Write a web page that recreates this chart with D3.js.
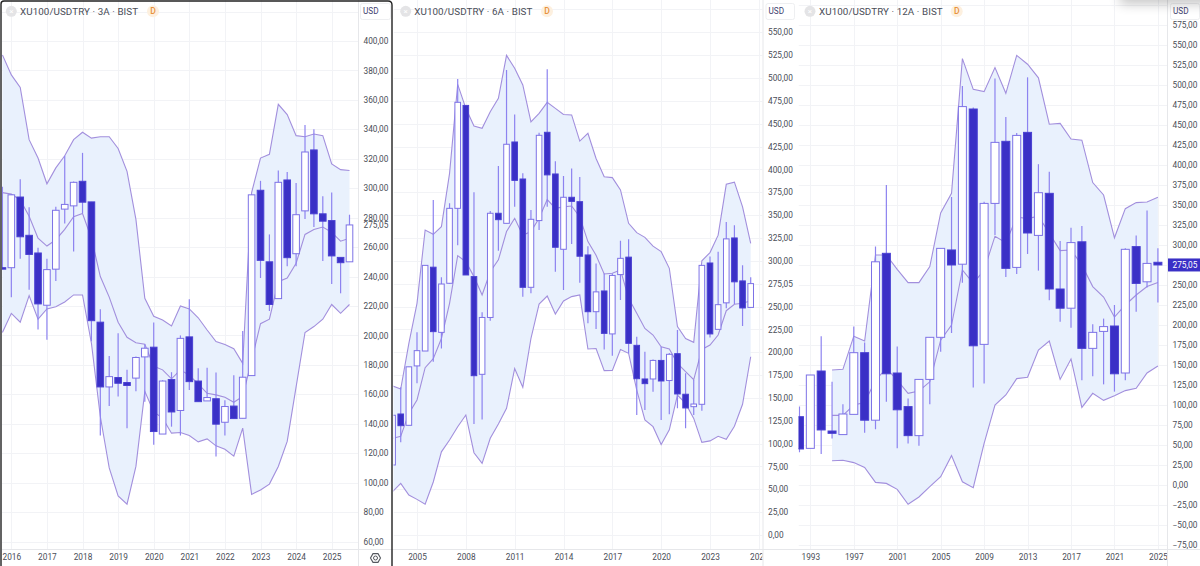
<!DOCTYPE html>
<html>
<head>
<meta charset="utf-8">
<title>XU100/USDTRY</title>
<script src="https://cdn.jsdelivr.net/npm/d3@7/dist/d3.min.js"></script>
<style>
  html, body { margin: 0; padding: 0; background: #fff; overflow: hidden; }
  svg { display: block; }
  text { font-family: Roboto, "Noto Sans", sans-serif; }
</style>
</head>
<body>
<svg id="chart" width="1200" height="566"></svg>
<script>
// Last traded price, shared by the three timeframes
const lastPrice = 275.05;

// 3-month candles, 2015 Q4 onward
const open3 = [246,246,294,268,256,220.5,245,285.8,288,304.7,290.7,209,165,171.4,168,171,185.4,192,133,170,149,199,169,155.5,157,141,152,143.7,172.7,298.6,250,225,305.6,255.5,284.6,326,282.6,278,253,250];
const close3 = [245,295.5,267,255,221.4,244.7,285,289,304,290.5,210,165,172,167.5,166,185,191.3,134.7,169,148,198,168.6,155,157.8,139.7,151.7,143.5,171.6,295.5,251,221,304,252.8,282,324.6,282.6,277.6,254,249.4,lastPrice];
const high3 = [301,296,306,287,259.6,252,287.4,322,304.5,324,290.7,217.7,186,201.4,176.6,185.6,194,208.7,169.5,175,200,224.5,177.7,178,174.8,156,173,203,295.5,305,268.6,312,311,303.6,343,340,294.6,297,253,282];
const low3 = [245,226,252,231,204,197,237,276,257,283,196,132,152,158.5,137,162,155,125.7,133,138,132,163,155,155.5,117.7,132,143.5,143.7,172.7,239,216.6,225,247,247,279,273.6,250.6,235,228.6,250];
const upper3 = [390.5,377,368.4,333,320.5,303,313.8,322,333,338,334,335,335,327,311.5,278.8,225.2,213,210.5,206.4,220,218,212,203.7,195.8,193.8,191,181,297,320.5,323,357,350,335.7,335,336.8,335.7,316.5,312.6,312];
const lower3 = [202,215,209,227,211,218,219.5,222.7,227.5,227.5,194.7,144.9,110,91,85.4,111,162,148,143.8,133.6,134,132,127.7,129.7,125,122.7,118,137,92,95,99,111,128,165,202,206,211,221,215,221];
const basis3 = [297,296,292,281,266,260.7,265,272,280.6,282.8,266,240,226,209,198.7,195,194,179,176.6,170.5,176.6,173,167,160.7,159.6,158,154.6,158.5,183,208,211,236.5,239,249,268.6,272,273.6,270,264,266];
const years3 = [2016,2017,2018,2019,2020,2021,2022,2023,2024,2025];
const prices3 = [60,80,100,120,140,160,180,200,220,240,260,280,300,320,340,360,380,400];

// 6-month candles, 2003 H2 onward
const open6 = [76.6,132.4,120,185,201.3,293,221.7,275.4,357.4,470,282.7,175.8,238,352,341,430,389.5,271,344,440.6,395,312.6,369.5,364.7,306.4,244.3,267,220,284.9,304,207.5,170.7,170.7,191,169,198.4,154,140.4,143,297.6,225,254,325,278,249];
const close6 = [131,119.6,184,201.7,295,222.5,274.6,357.4,473.4,284.5,174.3,238,352,345,427.5,388,271,345.4,437.3,394,314.8,369.5,365,305,244.3,266,220.6,284,302.7,209.7,171,165.6,191,168.5,197.7,154.3,139,143.3,295,220,252,324,277,248.4,lastPrice];
const high6 = [131,161.6,184,221.7,295,366.6,282,363,499,470,375,243.6,354.5,403.8,508.8,460,395.7,355.6,440,509.5,408.9,392.8,401,391.7,316,297,286,286,322,323.7,217,200.6,192,206,199,224.3,177,169.6,295,304.6,310,342.5,339,295,282];
const low6 = [76.6,101.4,120,166,201.3,189.6,204,275,317,284.5,121.4,126.5,234.5,311,341,359,260.7,264.4,333.7,359,288,268,318.4,276,231.6,225.4,203,196,257,198.8,131.3,136.8,156.8,125.8,132,138.6,116.7,131.3,136,216,225,248,252.7,228.7,249];
const upper6 = [163,159.7,209.7,253.5,333.7,329,337.4,395.7,493,466.8,447.5,445,463,477.8,524.8,510.6,492.4,452,461.4,473.4,466.8,460,459.6,431,439.5,412,392,391,377.5,341,330.8,325.7,316,310,291.8,228,215,210.8,300,309,328,383.7,386,359,319];
const lower6 = [47.4,56.5,43.8,39,33.6,58,91,104,118.5,131.3,90,78.4,105.8,121.4,138.6,182,161.6,215,252.7,261.5,241.8,256,260.8,262.6,203.5,204,179.8,180,203,198.8,158.6,125.8,118.5,99,115,153,144,127.6,101.4,103,108,104.7,119,143,195];
const basis6 = [105.8,108,133,147.7,183,193,215,253.5,305.6,299,282.7,262.6,288,301,332,346.5,328,332,346.5,367,357.4,359,360,348,321,306,285.6,286.3,290,259,242.5,226,218.8,206,203.5,187.8,178.7,170,203,207.9,218.8,245.4,252.4,253.5,256.4];
const years6 = [2005,2008,2011,2014,2017,2020,2023,2026];
const prices6 = [0,25,50,75,100,125,150,175,200,225,250,300,325,350,375,400,425,450,475,500,525,550];

// 12-month candles, 1992 onward; the bands only exist from 1995
const open12 = [85.4,45.8,142.5,67.5,63,88.3,165.4,81,289.6,140,98,61.7,132,184.6,293.8,276,470,175.8,352,429.6,272,440.8,312,364.6,245,221,304,170.8,192,198.75,140,298,254,278.4];
const close12 = [45,137.5,68.8,64.6,88.75,165.4,81,279,139,94,61.7,132,184.6,295.8,275,473,174,352,428.3,270.8,437,315,365.4,245,221,303,170.8,190.8,198,139,294.6,252,277,lastPrice];
const high12 = [98,137.5,186,129,100.8,198,178,298,375,173,108,132,184.6,295.8,360,498.8,472,354,508,460,440,509.6,401,391.7,305,321.7,323.75,201,208,225,295.8,312,343,296];
const low12 = [40.8,45.8,38.75,58,63,88.3,65.4,69.6,104,45.8,52,49,101,166.7,190,252.9,122,127,312.5,260,263.8,288.8,268,231,204,196.7,131,136,125.8,116.7,131,216.7,247,228];
const upper12 = [143.75,144.6,186,180,287.5,287.5,269.6,253,253,273,340,364.6,533,494.6,491.7,521.7,489.6,537,526,509,451,452,432.5,431,378,362.5,309,345.4,353,353.75,359.6];
const lower12 = [30.4,31,28,22,3.3,2,-5.4,-24,-15,-2,10.4,36.7,4,-3.3,52,100,112.5,133,134.6,168.75,180,132,157.5,97,114.6,105.8,111.7,118,120.8,140,148.75];
const basis12 = [87,87,100,103,131,145.8,131,114.6,117.5,129,181,200,268.75,252,268.75,311,303,335,333,336,314.6,293,293.75,275,248,235,210,225,237.5,248,253];
const years12 = [1993,1997,2001,2005,2009,2013,2017,2021,2025];
const prices12 = [-75,-50,-25,0,25,50,75,100,125,150,175,200,225,250,300,325,350,375,400,425,450,475,500,525,550,575];

const colors = {
  body: "#3a30c6", bodyEdge: "#4a40d2", hollowEdge: "#7d72e6", wick: "#8d83f0",
  band: "#a28fdd", fill: "#e9f1fd", grid: "#f2f3f6", rule: "#e6e7ea", text: "#4a4d57"
};

const axisBottom = 549;
const comma = v => (v < 0 ? "\u2212" : "") + Math.abs(v).toFixed(2).replace(".", ",");

// One entry per timeframe: geometry of the pane and the series drawn in it
const panes = [
  { name: "3A", left: 2, right: 358, labelX: 363.5, usd: [360, 390], title: [11.3, 20, 153],
    startT: 2015.75, step: 0.25, bandFrom: 0, width: 6.6, wickW: 1.2,
    x: d3.scaleLinear().domain([2016, 2025]).range([11.33, 331.7]),
    y: d3.scaleLinear().domain([60, 400]).range([541.5, 41]),
    open: open3, close: close3, high: high3, low: low3, upper: upper3, lower: lower3, basis: basis3,
    years: years3, prices: prices3, extraGrid: [420], tag: false },
  { name: "6A", left: 393.5, right: 762.5, labelX: 768, usd: [765.5, 794], title: [405.7, 414.3, 547],
    startT: 2003.5, step: 0.5, bandFrom: 0, width: 5.6, wickW: 1.2,
    x: d3.scaleLinear().domain([2005, 2023]).range([417, 710]),
    y: d3.scaleLinear().domain([0, 550]).range([535, 32.3]),
    open: open6, close: close6, high: high6, low: low6, upper: upper6, lower: lower6, basis: basis6,
    years: years6, prices: prices6, extraGrid: [275, 575], tag: false },
  { name: "12A", left: 798.5, right: 1167, labelX: 1172.5, usd: [1170, 1199], title: [810, 819, 956.7],
    startT: 1992, step: 1, bandFrom: 3, width: 8, wickW: 1.2,
    x: d3.scaleLinear().domain([1993, 2025]).range([810.33, 1157.9]),
    y: d3.scaleLinear().domain([0, 575]).range([485, 25]),
    open: open12, close: close12, high: high12, low: low12, upper: upper12, lower: lower12, basis: basis12,
    years: years12, prices: prices12, extraGrid: [275, 600], tag: true }
];

const svg = d3.select("#chart");
const defs = svg.append("defs");
defs.append("filter").attr("id", "soft").attr("x", "-30%").attr("y", "-100%")
  .attr("width", "160%").attr("height", "300%")
  .append("feGaussianBlur").attr("stdDeviation", 6);

panes.forEach((p, i) => {
  const root = svg.append("g").attr("class", "pane-" + p.name);
  const clipId = "plot" + i;
  defs.append("clipPath").attr("id", clipId).append("rect")
    .attr("x", p.left).attr("y", 0).attr("width", p.right - p.left).attr("height", axisBottom);
  const axisClipId = "time" + i;
  defs.append("clipPath").attr("id", axisClipId).append("rect")
    .attr("x", p.left).attr("y", axisBottom).attr("width", p.right - p.left).attr("height", 566 - axisBottom);

  const times = p.open.map((_, k) => p.startT + k * p.step);
  const bandTimes = times.slice(p.bandFrom);
  const plot = root.append("g").attr("clip-path", `url(#${clipId})`);

  // Grid lines sit at the price and year ticks
  plot.append("g").selectAll("line").data(p.prices.concat(p.extraGrid)).join("line")
    .attr("x1", p.left).attr("x2", p.right)
    .attr("y1", d => Math.round(p.y(d)) + 0.5).attr("y2", d => Math.round(p.y(d)) + 0.5)
    .attr("stroke", colors.grid);
  plot.append("g").selectAll("line").data(p.years).join("line")
    .attr("x1", d => Math.round(p.x(d)) + 0.5).attr("x2", d => Math.round(p.x(d)) + 0.5)
    .attr("y1", 0).attr("y2", axisBottom)
    .attr("stroke", colors.grid);

  // Bollinger envelope: shaded channel, then the three lines
  const area = d3.area().x((_, k) => p.x(bandTimes[k]))
    .y0((_, k) => p.y(p.lower[k])).y1((_, k) => p.y(p.upper[k]));
  plot.append("path").datum(p.upper).attr("d", area).attr("fill", colors.fill);
  const line = d3.line().x((_, k) => p.x(bandTimes[k])).y(d => p.y(d));
  [p.upper, p.lower, p.basis].forEach(series => {
    plot.append("path").datum(series).attr("d", line)
      .attr("fill", "none").attr("stroke", colors.band).attr("stroke-width", 1.1);
  });

  // Candles: wick first so the body covers it
  const candles = plot.append("g").selectAll("g").data(times).join("g");
  candles.append("line")
    .attr("x1", d => p.x(d)).attr("x2", d => p.x(d))
    .attr("y1", (_, k) => p.y(p.high[k])).attr("y2", (_, k) => p.y(p.low[k]))
    .attr("stroke", colors.wick).attr("stroke-width", p.wickW);
  candles.append("rect")
    .attr("x", d => p.x(d) - p.width / 2).attr("width", p.width)
    .attr("y", (_, k) => p.y(Math.max(p.open[k], p.close[k])))
    .attr("height", (_, k) => Math.max(1, Math.abs(p.y(p.open[k]) - p.y(p.close[k]))))
    .attr("fill", (_, k) => p.close[k] >= p.open[k] ? "#fff" : colors.body)
    .attr("stroke", (_, k) => p.close[k] >= p.open[k] ? colors.hollowEdge : colors.bodyEdge)
    .attr("stroke-width", 1);

  // Year labels along the bottom strip
  const timeAxis = d3.axisBottom(p.x).tickValues(p.years).tickFormat(d3.format("d")).tickSize(0).tickPadding(0);
  const timeG = root.append("g").attr("clip-path", `url(#${axisClipId})`)
    .append("g").attr("transform", `translate(0,${axisBottom + 5})`).call(timeAxis);
  timeG.select(".domain").remove();
  timeG.selectAll("text").attr("font-size", 8.3).attr("fill", colors.text).attr("font-family", "Roboto, sans-serif");

  // Price scale on the right edge of the pane
  const priceTicks = p.tag ? p.prices : p.prices.concat([lastPrice]);
  const priceAxis = d3.axisRight(p.y).tickValues(priceTicks).tickFormat(comma).tickSize(0).tickPadding(0);
  const priceG = root.append("g").attr("transform", `translate(${p.labelX},0)`).call(priceAxis);
  priceG.select(".domain").remove();
  priceG.selectAll("text").attr("font-size", 8.3).attr("fill", colors.text).attr("font-family", "Roboto, sans-serif");

  if (p.tag) {
    root.append("rect").attr("x", p.right + 0.5).attr("y", p.y(lastPrice) - 6.5)
      .attr("width", 1200 - p.right).attr("height", 13).attr("fill", colors.body);
    root.append("text").attr("x", p.labelX).attr("y", p.y(lastPrice)).attr("dy", "0.34em")
      .attr("font-size", 8.3).attr("fill", "#fff").text(comma(lastPrice));
  }

  // Separators between plot, price scale and time strip
  root.append("line").attr("x1", p.right + 0.5).attr("x2", p.right + 0.5).attr("y1", 0).attr("y2", 566)
    .attr("stroke", colors.rule);
  root.append("line").attr("x1", p.left).attr("x2", p.right + 42).attr("y1", axisBottom + 0.5).attr("y2", axisBottom + 0.5)
    .attr("stroke", colors.rule);

  // Header: symbol line, source badge and currency button
  const [cx, tx, dx] = p.title;
  root.append("circle").attr("cx", cx).attr("cy", 11.3).attr("r", 5.5).attr("fill", "#e4e4e6");
  root.append("text").attr("x", cx).attr("y", 11.3).attr("dy", "0.34em").attr("text-anchor", "middle")
    .attr("font-size", 8).attr("fill", "#fff").text("\u00d7");
  root.append("text").attr("x", tx).attr("y", 11.3).attr("dy", "0.36em")
    .attr("font-size", 9.8).attr("letter-spacing", 0.08).attr("fill", colors.text)
    .text(`XU100/USDTRY \u00b7 ${p.name} \u00b7 BIST`);
  root.append("circle").attr("cx", dx).attr("cy", 11.3).attr("r", 6).attr("fill", "#fdf0df");
  root.append("text").attr("x", dx).attr("y", 11.3).attr("dy", "0.36em").attr("text-anchor", "middle")
    .attr("font-size", 8.6).attr("font-weight", 500).attr("fill", "#e8923c").text("D");
  root.append("rect").attr("x", p.usd[0] + 0.5).attr("y", 3.5).attr("width", p.usd[1] - p.usd[0]).attr("height", 16).attr("rx", 2)
    .attr("fill", "#fff").attr("stroke", "#eeeff1");
  root.append("text").attr("x", p.usd[0] + 3).attr("y", 11.5).attr("dy", "0.36em")
    .attr("font-size", 8.2).attr("fill", "#3f4370").text("USD");
});

// Settings glyph in the corner of the first price scale
const gear = svg.append("g").attr("transform", "translate(375.5,558)");
const hex = d3.range(6).map(k => [5 * Math.cos(k * Math.PI / 3), 5 * Math.sin(k * Math.PI / 3)]);
gear.append("path").attr("d", d3.line().curve(d3.curveLinearClosed)(hex)).attr("fill", "none").attr("stroke", "#55585f").attr("stroke-width", 1.1);
gear.append("circle").attr("r", 2).attr("fill", "none").attr("stroke", "#55585f").attr("stroke-width", 1);

// Outline of the active pane
svg.append("path").attr("d", "M1,566V4Q1,1 4,1H388Q392,1 392,5V566")
  .attr("fill", "none").attr("stroke", "#222").attr("stroke-width", 1.4);

// Soft shadow under the window edge at the top right
svg.append("rect").attr("x", 1120).attr("y", -14).attr("width", 110).attr("height", 18)
  .attr("fill", "#000").attr("opacity", 0.22).attr("filter", "url(#soft)");
</script>
</body>
</html>
